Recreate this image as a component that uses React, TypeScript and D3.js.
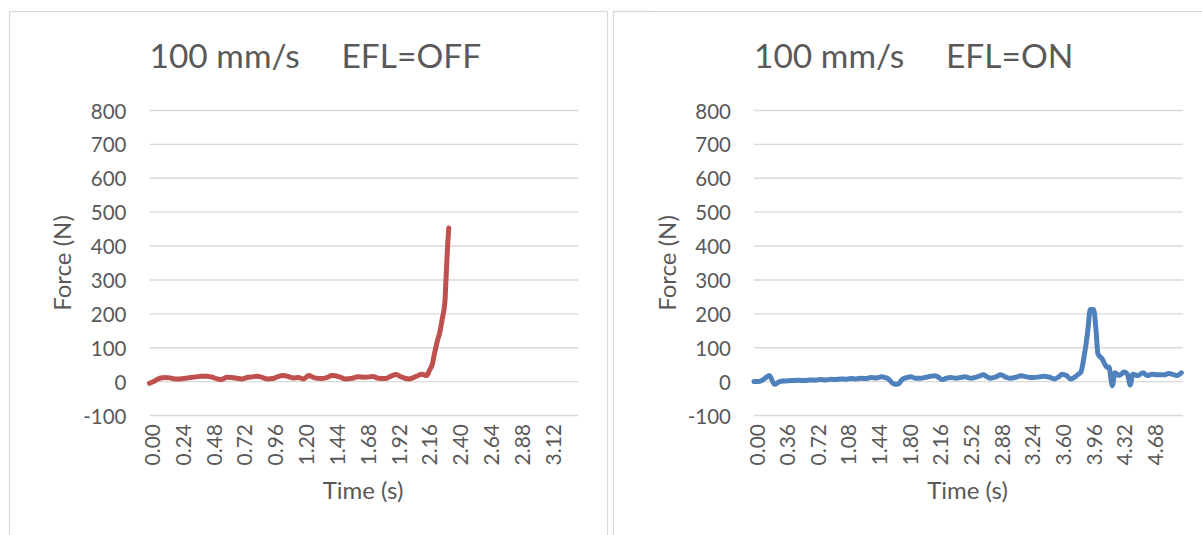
import React from 'react';
import * as d3 from 'd3';

// force readings (N) against time (s)
const offTime = [
  0.0, 0.04, 0.08, 0.12, 0.16, 0.2, 0.24, 0.28, 0.32, 0.36, 0.4, 0.44, 0.48, 0.52, 0.56, 0.6,
  0.64, 0.68, 0.72, 0.76, 0.8, 0.84, 0.88, 0.92, 0.96, 1.0, 1.04, 1.08, 1.12, 1.16, 1.2, 1.24,
  1.28, 1.34, 1.38, 1.42, 1.48, 1.52, 1.58, 1.62, 1.68, 1.74, 1.78, 1.84, 1.88, 1.92, 1.96,
  2.02, 2.08, 2.12, 2.16, 2.18, 2.2, 2.22, 2.24, 2.26, 2.28, 2.3, 2.31, 2.32, 2.33,
];
const offForce = [
  -5, 2, 10, 12, 11, 8, 8, 10, 12, 14, 16, 16, 14, 9, 6, 13,
  12, 10, 8, 12, 14, 16, 12, 8, 9, 15, 18, 15, 11, 12, 8, 18,
  12, 9, 12, 18, 14, 8, 10, 14, 13, 15, 10, 9, 16, 21, 14,
  8, 16, 22, 18, 34, 49, 85, 118, 145, 187, 236, 315, 394, 453,
];

const onTime = [
  0.0, 0.06, 0.12, 0.18, 0.24, 0.3, 0.36, 0.44, 0.52, 0.6, 0.66, 0.72, 0.78, 0.84, 0.9, 0.96,
  1.02, 1.08, 1.14, 1.2, 1.26, 1.32, 1.37, 1.44, 1.5, 1.54, 1.58, 1.62, 1.66, 1.7, 1.74, 1.8,
  1.84, 1.9, 1.96, 2.02, 2.08, 2.12, 2.16, 2.21, 2.26, 2.31, 2.38, 2.44, 2.48, 2.55, 2.62, 2.7,
  2.74, 2.78, 2.84, 2.9, 2.95, 3.0, 3.06, 3.14, 3.2, 3.25, 3.29, 3.35, 3.41, 3.47, 3.53, 3.58,
  3.62, 3.67, 3.72, 3.76, 3.8, 3.84, 3.88, 3.92, 3.95, 3.99, 4.02, 4.04, 4.09, 4.15, 4.17, 4.21,
  4.24, 4.29, 4.35, 4.39, 4.42, 4.45, 4.51, 4.57, 4.62, 4.68, 4.74, 4.82, 4.87, 4.91, 4.97, 5.02,
];
const onForce = [
  0, 0, 8, 18, -8, 0, 2, 3, 4, 3, 5, 4, 6, 5, 7, 6,
  8, 7, 9, 8, 10, 9, 12, 11, 14, 12, 8, -3, -8, -6, 6, 12,
  14, 10, 10, 13, 16, 17, 14, 6, 10, 12, 10, 13, 14, 10, 14, 20,
  14, 10, 14, 20, 14, 10, 12, 17, 14, 12, 12, 14, 16, 13, 8, 14,
  22, 18, 8, 12, 20, 28, 77, 146, 213, 213, 146, 82, 67, 42, 43, -12,
  26, 18, 28, 20, -10, 22, 18, 26, 18, 22, 20, 20, 24, 22, 18, 26,
];

const yTicks = [-100, 0, 100, 200, 300, 400, 500, 600, 700, 800];
const offLabels = ['0.00', '0.24', '0.48', '0.72', '0.96', '1.20', '1.44', '1.68', '1.92', '2.16', '2.40', '2.64', '2.88', '3.12'];
const onLabels = ['0.00', '0.36', '0.72', '1.08', '1.44', '1.80', '2.16', '2.52', '2.88', '3.24', '3.60', '3.96', '4.32', '4.68'];

const textColor = '#595959';
const gridColor = '#d9d9d9';
const font = 'Lato, "Open Sans", sans-serif';

type PanelProps = {
  left: number;
  plotLeft: number;
  plotRight: number;
  tMax: number;
  times: number[];
  forces: number[];
  labels: string[];
  color: string;
  speed: string;
  efl: string;
};

const Panel = ({ left, plotLeft, plotRight, tMax, times, forces, labels, color, speed, efl }: PanelProps) => {
  const x = d3.scaleLinear().domain([0, tMax]).range([plotLeft, plotRight]);
  const y = d3.scaleLinear().domain([-100, 800]).range([415.5, 110.5]);
  const line = d3
    .line<number>()
    .x((d, i) => x(times[i]))
    .y((d) => y(d))
    .curve(d3.curveMonotoneX);

  return (
    <g>
      <rect x={left} y={11.5} width={640} height={560} fill="#fff" stroke={gridColor} strokeWidth={1.2} />
      <text x={plotLeft} y={68} fill={textColor} fontFamily={font} fontSize={33.5}>
        <tspan x={plotLeft}>{speed}</tspan>
        <tspan x={plotLeft + 192}>{efl}</tspan>
      </text>
      {yTicks.map((t) => (
        <g key={t}>
          <line x1={plotLeft} x2={plotRight} y1={y(t)} y2={y(t)} stroke={gridColor} strokeWidth={1.4} />
          <text
            x={plotLeft - 23}
            y={y(t)}
            textAnchor="end"
            dominantBaseline="central"
            fill={textColor}
            fontFamily={font}
            fontSize={20.5}
          >
            {t}
          </text>
        </g>
      ))}
      {labels.map((l) => (
        <text
          key={l}
          transform={`translate(${x(+l) + 2},424) rotate(-90)`}
          textAnchor="end"
          dominantBaseline="central"
          fill={textColor}
          fontFamily={font}
          fontSize={21}
        >
          {l}
        </text>
      ))}
      <path
        d={line(forces) || ''}
        fill="none"
        stroke={color}
        strokeWidth={5}
        strokeLinejoin="round"
        strokeLinecap="round"
      />
      <text
        transform={`translate(${plotLeft - 88},263) rotate(-90)`}
        textAnchor="middle"
        dominantBaseline="central"
        fill={textColor}
        fontFamily={font}
        fontSize={24}
      >
        Force (N)
      </text>
      <text
        x={(plotLeft + plotRight) / 2 - 1}
        y={499}
        textAnchor="middle"
        fill={textColor}
        fontFamily={font}
        fontSize={24}
      >
        Time (s)
      </text>
    </g>
  );
};

const App = () => (
  <svg
    width={1202}
    height={535}
    style={{ position: 'absolute', left: 0, top: 0, display: 'block', background: '#fff' }}
  >
    <Panel
      left={9.5}
      plotLeft={149.5}
      plotRight={578.5}
      tMax={3.34}
      times={offTime}
      forces={offForce}
      labels={offLabels}
      color="#c0504d"
      speed="100 mm/s"
      efl="EFL=OFF"
    />
    <rect x={607.5} y={0} width={6} height={535} fill="#fff" />
    <line x1={607.5} x2={607.5} y1={11.5} y2={535} stroke={gridColor} strokeWidth={1.2} />
    <Panel
      left={613.5}
      plotLeft={754}
      plotRight={1183}
      tMax={5.04}
      times={onTime}
      forces={onForce}
      labels={onLabels}
      color="#4f81bd"
      speed="100 mm/s"
      efl="EFL=ON"
    />
  </svg>
);

export default App;
